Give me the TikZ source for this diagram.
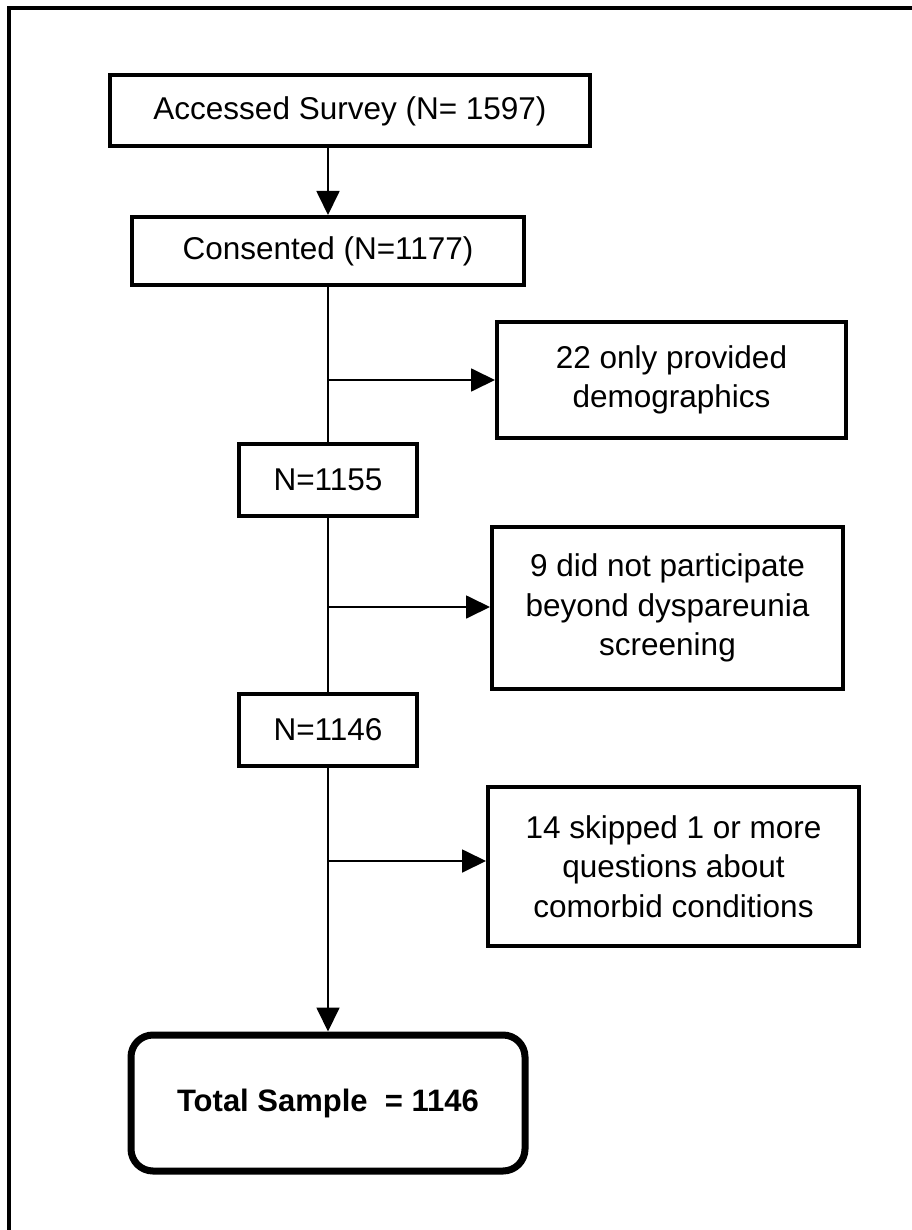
\documentclass[tikz,border=0pt]{standalone}
\usepackage{fontspec}
\setmainfont{Liberation Sans}
\usetikzlibrary{arrows.meta}
\begin{document}
\begin{tikzpicture}[x=1pt,y=-1pt,
  box/.style={draw=black, line width=4pt, align=center, inner sep=0pt,
    font=\fontsize{31.5}{39.5}\selectfont},
  totalbox/.style={draw=black, line width=7pt, rounded corners=22pt, align=center,
    inner sep=0pt, font=\fontsize{31}{38}\selectfont\bfseries},
  conn/.style={draw=black, line width=1.8pt},
  arr/.style={conn, -{Triangle[length=24pt,width=23pt]}},
  frame/.style={draw=black, line width=4.5pt}
]
\useasboundingbox (0,0) rectangle (911,1230);
\draw[frame] (9,1232) -- (9,8) -- (913,8);

\node[box, minimum width=480pt, minimum height=71pt] (acc) at (350,111) {Accessed Survey (N= 1597)};
\node[box, minimum width=392pt, minimum height=68pt] (cons) at (328,251) {Consented (N=1177)};
\node[box, minimum width=178pt, minimum height=72pt] (n1155) at (328,480) {N=1155};
\node[box, minimum width=178pt, minimum height=72pt] (n1146) at (328,730) {N=1146};
\node[box, minimum width=349pt, minimum height=116pt] (ex1) at (671.5,380) {22 only provided\\demographics};
\node[box, minimum width=351pt, minimum height=162pt] (ex2) at (667.5,608) {9 did not participate\\beyond dyspareunia\\screening};
\node[box, minimum width=371pt, minimum height=159pt] (ex3) at (673.5,866.5) {14 skipped 1 or more\\questions about\\comorbid conditions};
\node[totalbox, minimum width=394pt, minimum height=136pt] (total) at (328,1103) {Total Sample \ = 1146};

\coordinate (b1) at (328,380);
\coordinate (b2) at (328,607);
\coordinate (b3) at (328,861);

\draw[arr] (acc.south -| cons.north) -- (cons.north);
\draw[conn] (cons.south) -- (n1155.north);
\draw[conn] (n1155.south) -- (n1146.north);
\draw[arr] (n1146.south) -- (total.north);
\draw[arr] (b1) -- (b1 -| ex1.west);
\draw[arr] (b2) -- (b2 -| ex2.west);
\draw[arr] (b3) -- (b3 -| ex3.west);
\end{tikzpicture}
\end{document}
